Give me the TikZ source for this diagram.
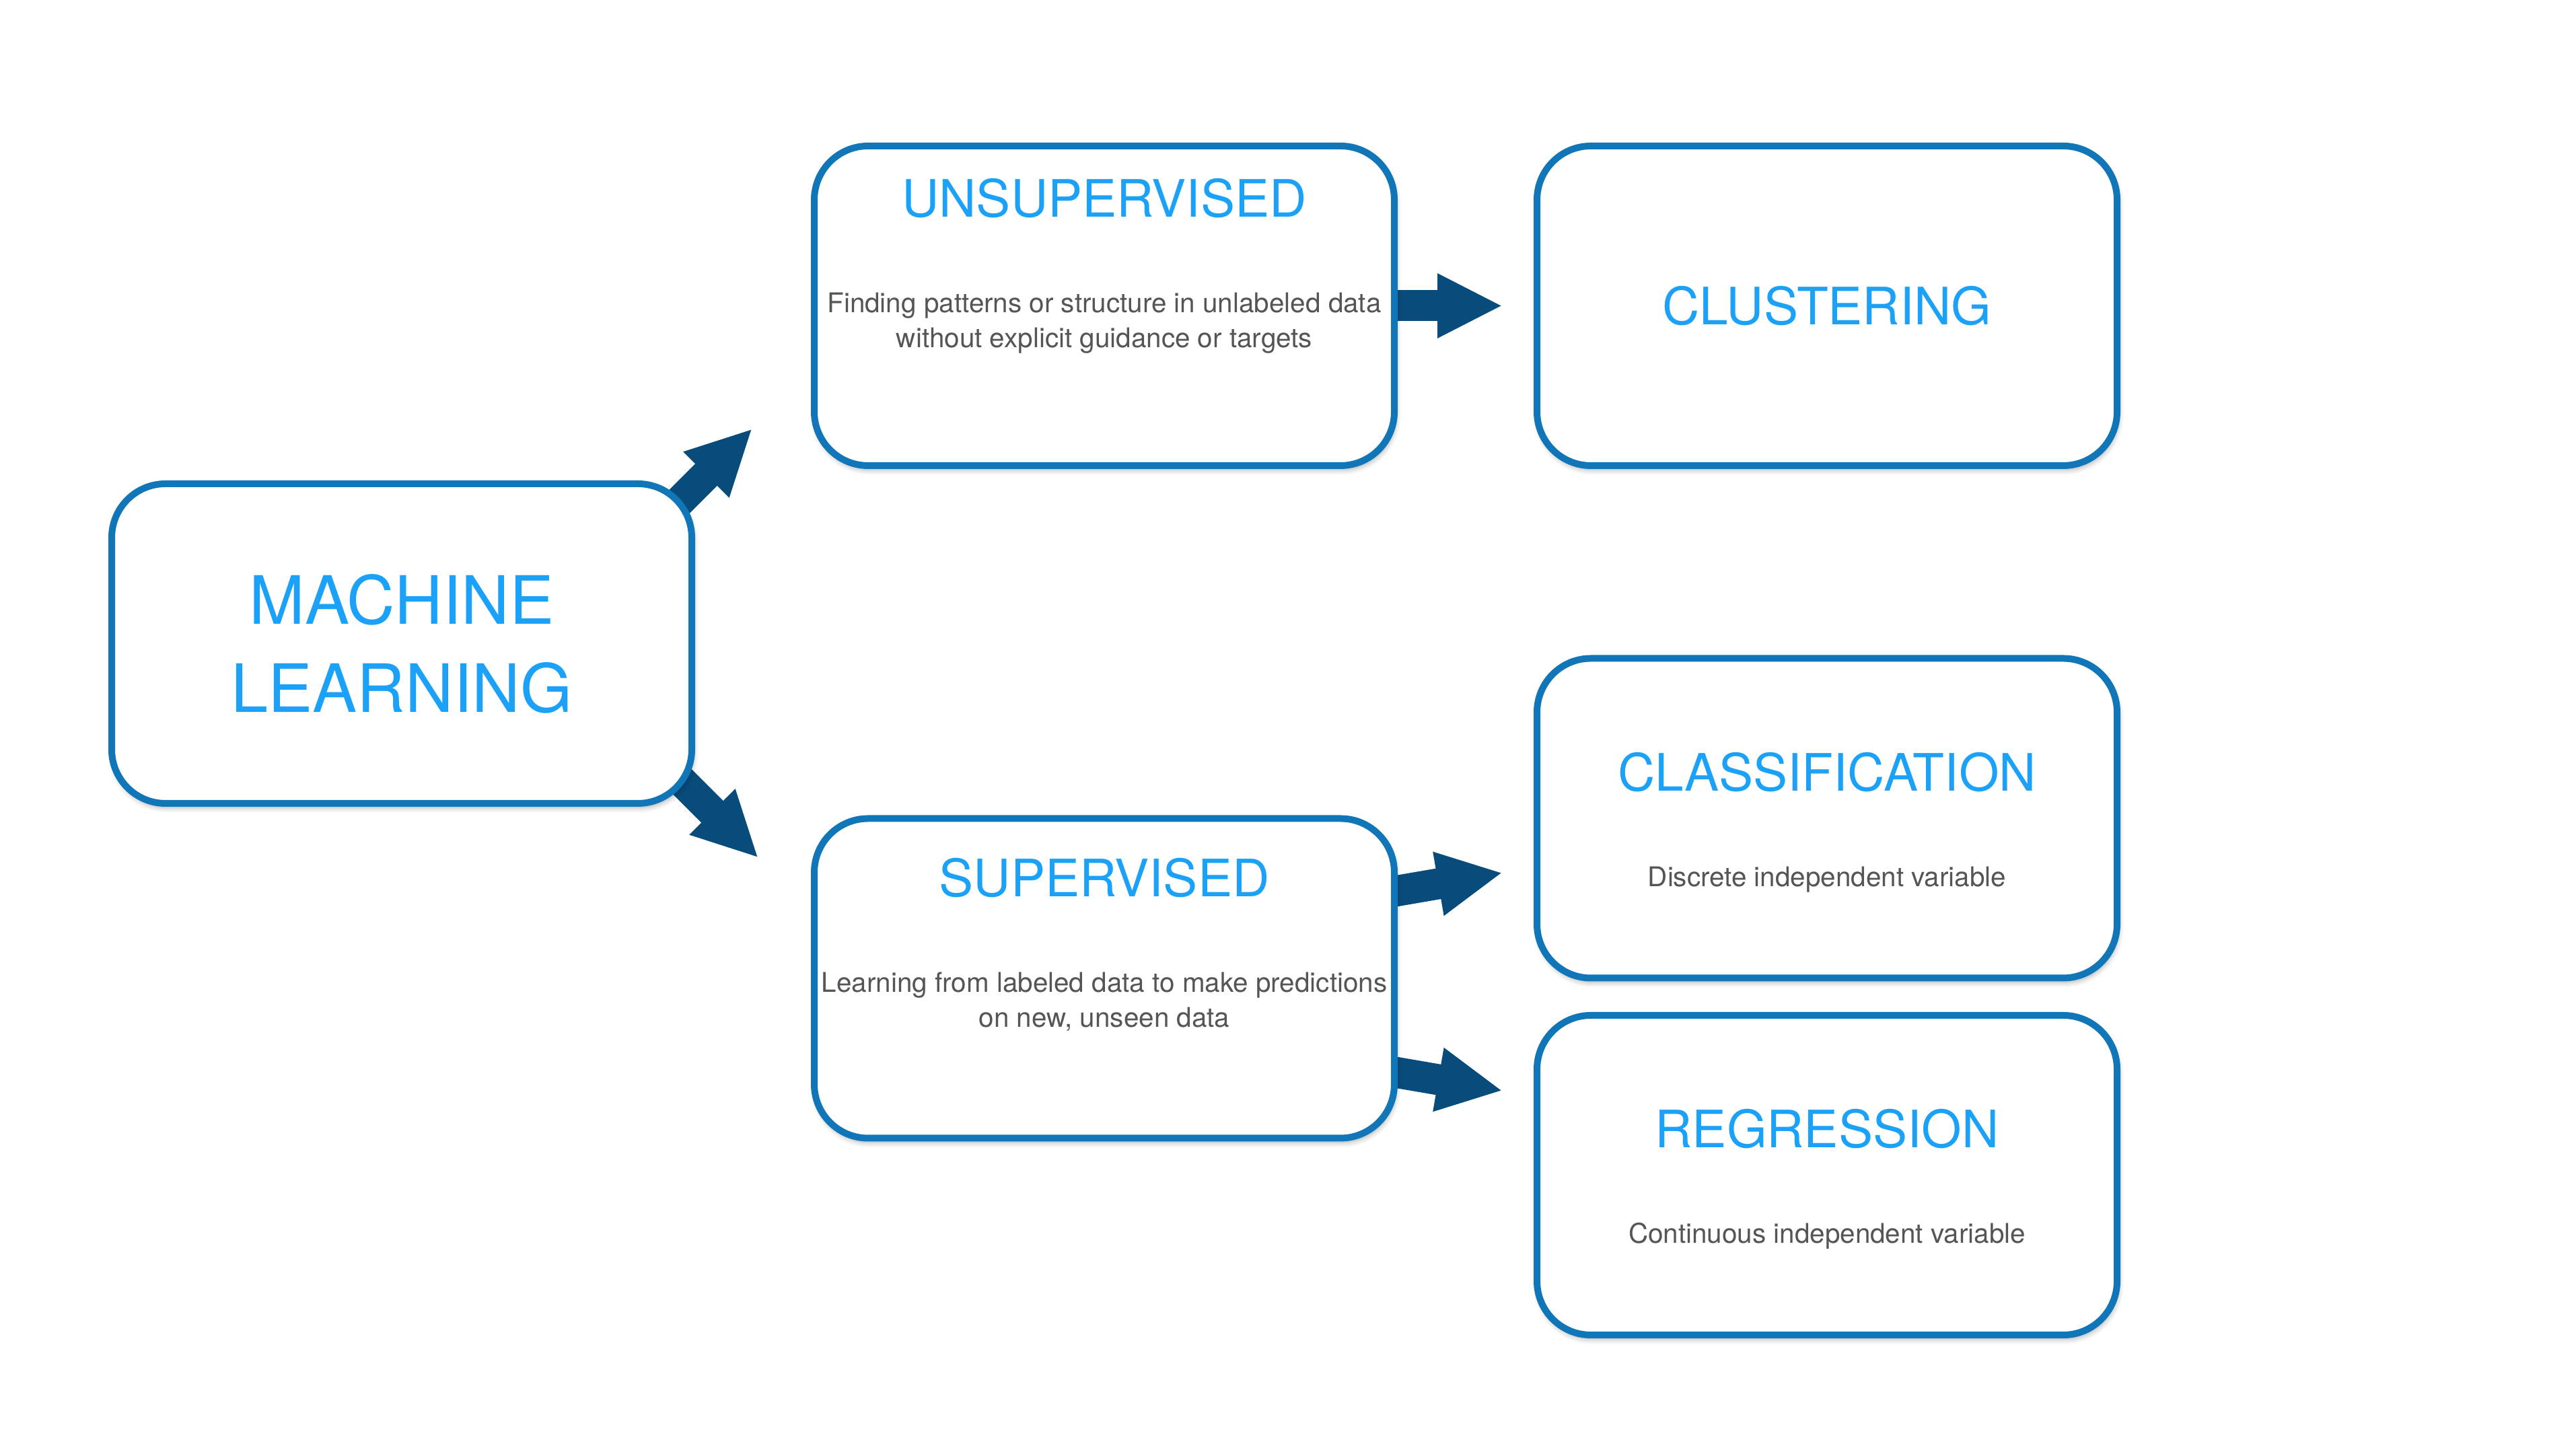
\documentclass[tikz,border=0pt]{standalone}
\usepackage{fontspec}
\setmainfont{TeX Gyre Heros}
\usetikzlibrary{arrows.meta,positioning,calc,backgrounds,shadows.blur}

\definecolor{boxline}{RGB}{17,118,184}
\definecolor{headblue}{RGB}{27,162,248}
\definecolor{arrowblue}{RGB}{8,76,124}
\definecolor{descgray}{RGB}{85,85,85}

\begin{document}
\begin{tikzpicture}[
		box/.style={draw=boxline, line width=0.1cm, fill=white, rounded corners=0.8cm,
			minimum width=8.62cm, minimum height=4.75cm,
			blur shadow={shadow xshift=0.02cm, shadow yshift=-0.06cm, shadow blur radius=0.08cm, shadow opacity=35}},
		head/.style={text=headblue, font=\fontsize{21.8pt}{26pt}\selectfont, inner sep=0pt, anchor=base},
		desc/.style={text=descgray, font=\fontsize{11.5pt}{14.8pt}\selectfont, inner sep=0pt, align=center, anchor=base},
		bigarrow/.style={draw=arrowblue, line width=0.46cm, -{Triangle[length=0.97cm,width=0.89cm]}}]
		\useasboundingbox (0,0) rectangle (38.28,21.46);

		% boxes
		\node[box] (ml) at (5.97,11.895) {};
		\node[box] (unsup) at (16.41,16.915) {};
		\node[box, right=2.02cm of unsup] (clus) {};
		\node[box, below=5.145cm of unsup] (sup) {};
		\node[box, below=2.765cm of clus] (clas) {};
		\node[box, below=0.455cm of clas] (reg) {};

		% texts (base = baseline of the last line)
		\node[head, font=\fontsize{28.2pt}{37.5pt}\selectfont, align=center] (ml-h) at ($(ml.center)+(0,-1.025)$) {MACHINE\\LEARNING};

		\node[head] (unsup-h) at ($(unsup.center)+(0,1.315)$) {UNSUPERVISED};
		\node[desc] (unsup-d) at ($(unsup.center)+(0,-0.625)$) {Finding patterns or structure in unlabeled data\\without explicit guidance or targets};

		\node[head] (sup-h) at ($(sup.center)+(0,1.21)$) {SUPERVISED};
		\node[desc] (sup-d) at ($(sup.center)+(0,-0.73)$) {Learning from labeled data to make predictions\\on new, unseen data};

		\node[head] (clus-h) at ($(clus.center)+(0,-0.285)$) {CLUSTERING};

		\node[head] (clas-h) at ($(clas.center)+(0,0.40)$) {CLASSIFICATION};
		\node[desc] (clas-d) at ($(clas.center)+(0,-1.02)$) {Discrete independent variable};

		\node[head] (reg-h) at ($(reg.center)+(0,0.405)$) {REGRESSION};
		\node[desc] (reg-d) at ($(reg.center)+(0,-1.015)$) {Continuous independent variable};

		% arrows, behind the boxes
		\begin{scope}[on background layer]
			\coordinate (ml-up) at ($(ml.north east)+(0.85,0.77)$);
			\coordinate (ml-down) at ($(ml.south east)+(0.94,-0.76)$);
			\draw[bigarrow] ($(ml.north east)+(-1.15,-1.23)$) -- (ml-up);
			\draw[bigarrow] ($(ml.south east)+(-1.06,1.24)$) -- (ml-down);
			\draw[bigarrow] ($(unsup.east)+(-0.2,0)$) -- ($(clus.west)+(-0.46,0)$);
			\draw[bigarrow] ($(sup.east)+(-0.3,1.25)$) -- ($(clas.west)+(-0.46,-0.81)$);
			\draw[bigarrow] ($(sup.east)+(-0.3,-1.35)$) -- ($(reg.west)+(-0.46,1.255)$);
		\end{scope}
	\end{tikzpicture}
\end{document}
